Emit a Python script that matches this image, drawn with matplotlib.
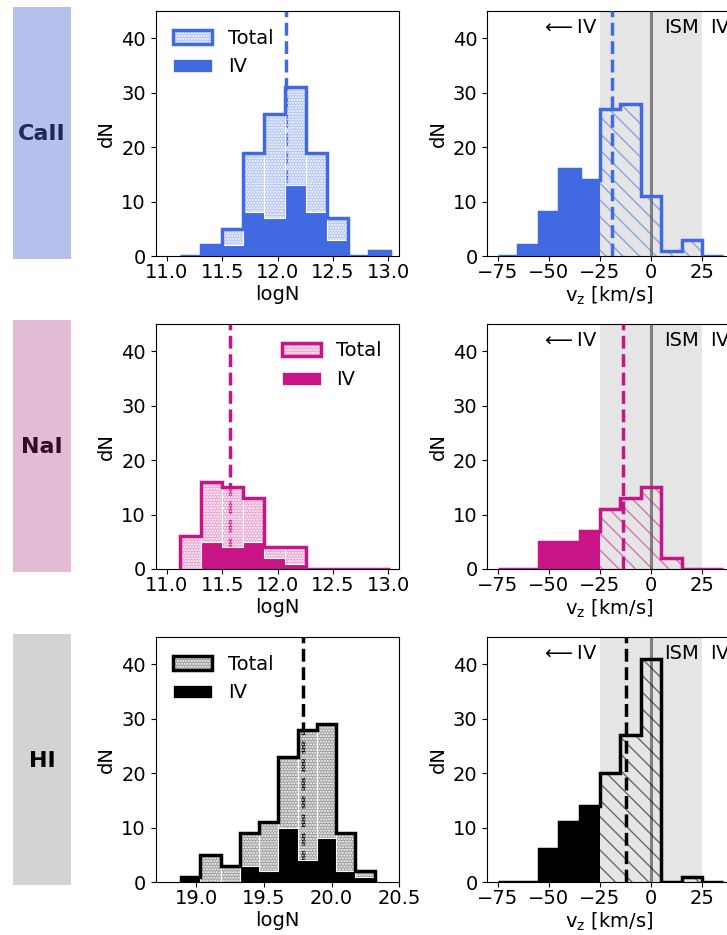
import matplotlib
matplotlib.use("Agg")
import matplotlib.pyplot as plt
from matplotlib.patches import Patch, Rectangle
from matplotlib.colors import to_rgba
import numpy as np

plt.rcParams['font.family'] = ['DejaVu Sans']
plt.rcParams['font.size'] = 14

# ---------------- data ----------------
species = ['CaII', 'NaI', 'HI']
colors = ['royalblue', 'mediumvioletred', 'black']
box_colors = ['#b3c1ec', '#e1bcd4', '#d3d3d3']
text_colors = ['#1b2a5a', '#320a23', '#000000']

logn_edges_metal = [11.12, 11.31, 11.50, 11.69, 11.88, 12.07, 12.26, 12.45, 12.64, 12.83, 13.02]
logn_edges_hi = [18.89, 19.03, 19.18, 19.32, 19.46, 19.60, 19.75, 19.89, 20.03, 20.17, 20.32]

caii_logn_total = [0, 2, 5, 19, 26, 31, 19, 7, 0, 1]
caii_logn_iv = [0, 2, 2, 8, 7, 13, 8, 3, 0, 1]
nai_logn_total = [6, 16, 15, 13, 4, 4, 0, 0, 0, 0]
nai_logn_iv = [0, 5, 4, 5, 2, 1, 0, 0, 0, 0]
hi_logn_total = [1, 5, 3, 9, 11, 23, 28, 29, 9, 2]
hi_logn_iv = [1, 0, 0, 3, 2, 10, 4, 8, 2, 1]

logn_means = [12.08, 11.57, 19.79]

vz_edges = [-75, -65, -55, -45, -35, -25, -15, -5, 5, 15, 25, 35]
caii_vz_total = [0, 2, 8, 16, 14, 27, 28, 11, 1, 3, 0]
nai_vz_total = [0, 0, 5, 5, 7, 11, 13, 15, 2, 0, 0]
hi_vz_total = [0, 0, 6, 11, 14, 20, 27, 41, 0, 1, 0]
vz_means = [-19.1, -13.9, -12.1]
ism_range = (-25, 25)

logn_edges = [logn_edges_metal, logn_edges_metal, logn_edges_hi]
logn_total = [caii_logn_total, nai_logn_total, hi_logn_total]
logn_iv = [caii_logn_iv, nai_logn_iv, hi_logn_iv]
vz_total = [caii_vz_total, nai_vz_total, hi_vz_total]
logn_xlims = [(10.9, 13.1), (10.9, 13.1), (18.7, 20.5)]
logn_xticks = [[11.0, 11.5, 12.0, 12.5, 13.0], [11.0, 11.5, 12.0, 12.5, 13.0],
               [19.0, 19.5, 20.0, 20.5]]
legend_locs = ['upper left', 'upper right', 'upper left']

# ---------------- layout ----------------
W, H = 727, 935
fig = plt.figure(figsize=(W / 100, H / 100), dpi=100)

row_tops = [11, 324, 637]
ax_h = 245
left_x0, right_x0, ax_w = 155.7, 487.3, 243.6
box_tops = [7, 320, 633.5]
box_h = 251.5
DOTS = '......'

for i in range(3):
    color = colors[i]
    light = to_rgba(color, 0.38)

    # label box
    bt = box_tops[i]
    fig.patches.append(Rectangle((13 / W, 1 - (bt + box_h) / H), 58 / W, box_h / H,
                                 transform=fig.transFigure, facecolor=box_colors[i],
                                 edgecolor='none', zorder=0))
    fig.text(42 / W, 1 - (bt + box_h / 2 + 1.5) / H, species[i], ha='center', va='center',
             fontsize=16, fontweight='bold', color=text_colors[i])

    bottom = 1 - (row_tops[i] + ax_h) / H

    # ---------- left: logN ----------
    ax = fig.add_axes([left_x0 / W, bottom, ax_w / W, ax_h / H])
    edges = np.array(logn_edges[i])
    tot = np.array(logn_total[i])
    iv = np.array(logn_iv[i])
    lefts = edges[:-1]
    widths = np.diff(edges)

    ax.axvline(logn_means[i], color=color, ls='--', lw=2.5, zorder=1)
    ax.bar(lefts, iv, width=widths, align='edge', color=color, edgecolor=color,
           lw=0.5, zorder=2)
    ax.bar(lefts, tot - iv, width=widths, bottom=iv, align='edge', facecolor=light,
           edgecolor='white', hatch=DOTS, lw=0.8, zorder=2)
    ax.stairs(tot, edges, baseline=0, color=color, lw=2.5, zorder=3)

    ax.set_xlim(*logn_xlims[i])
    ax.set_xticks(logn_xticks[i])
    ax.set_ylim(0, 45)
    ax.set_yticks([0, 10, 20, 30, 40])
    ax.tick_params(axis='x', pad=1.5)
    ax.set_xlabel('logN', labelpad=2)
    ax.set_ylabel('dN')

    h_total = (Patch(facecolor=light, edgecolor='white', hatch=DOTS, lw=0.8),
               Patch(facecolor='none', edgecolor=color, lw=2.5))
    h_iv = Patch(facecolor=color, edgecolor='white', lw=0.5)
    ax.legend([h_total, h_iv], ['Total', 'IV'], loc=legend_locs[i], frameon=False)

    # ---------- right: vz ----------
    ax2 = fig.add_axes([right_x0 / W, bottom, ax_w / W, ax_h / H])
    vedges = np.array(vz_edges)
    vtot = np.array(vz_total[i])
    vlefts = vedges[:-1]
    vwidths = np.diff(vedges)
    ism = (vlefts >= ism_range[0]) & (vedges[1:] <= ism_range[1])
    ivm = ~ism

    ax2.axvspan(ism_range[0], ism_range[1], color='gray', alpha=0.2, lw=0, zorder=0)
    ax2.axvline(0, color='gray', lw=2.2, zorder=1)
    ax2.bar(vlefts[ivm], vtot[ivm], width=vwidths[ivm], align='edge', color=color,
            lw=0, zorder=2)
    ax2.bar(vlefts[ism], vtot[ism], width=vwidths[ism], align='edge', facecolor='none',
            edgecolor=to_rgba(color, 0.55), hatch='\\\\', lw=0, zorder=2)
    ax2.stairs(vtot, vedges, baseline=0, color=color, lw=2.5, zorder=3)
    ax2.axvline(vz_means[i], color=color, ls='--', lw=2.5, zorder=4)

    ax2.text(-26, 40.9, r'$\longleftarrow$IV', ha='right', va='baseline')
    ax2.text(6.5, 40.9, 'ISM', ha='left', va='baseline')
    ax2.text(29, 40.9, r'IV$\longrightarrow$', ha='left', va='baseline')

    ax2.set_xlim(-80.1, 39)
    ax2.set_xticks([-75, -50, -25, 0, 25])
    ax2.set_ylim(0, 45)
    ax2.set_yticks([0, 10, 20, 30, 40])
    ax2.tick_params(axis='x', pad=1.5)
    ax2.set_xlabel(r'v$_\mathrm{z}$ [km/s]', labelpad=2)
    ax2.set_ylabel('dN')

fig.savefig('out.png', dpi=100)
